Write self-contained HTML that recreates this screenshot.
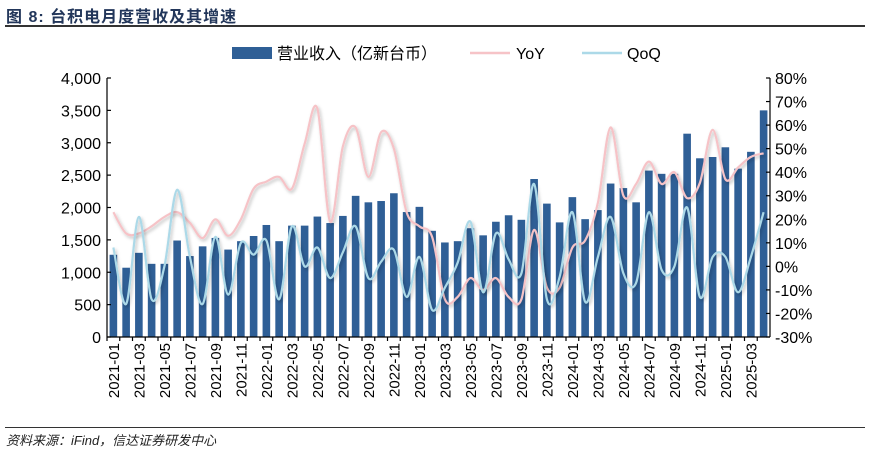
<!DOCTYPE html>
<html><head><meta charset="utf-8">
<style>
body{margin:0;background:#fff;width:870px;height:452px;overflow:hidden;font-family:"Liberation Sans","Noto Sans CJK SC",sans-serif;}
#title{position:absolute;left:6px;top:3px;font-size:16px;font-weight:bold;color:#22365a;letter-spacing:1px;font-family:"Liberation Sans","Noto Sans CJK SC",sans-serif;}
#tline{position:absolute;left:5px;top:25px;width:860px;height:2px;background:#333;}
#bline{position:absolute;left:5px;top:427px;width:860px;height:1px;background:#333;}
#src{position:absolute;left:6px;top:430px;font-size:13px;font-style:italic;color:#222;}
svg{position:absolute;left:0;top:0;}
</style></head><body>
<div id="title">图 8:  台积电月度营收及其增速</div>
<div id="tline"></div>
<svg id="chart" width="870" height="452"></svg>
<div id="bline"></div>
<div id="src">资料来源：iFind，信达证券研发中心</div>
<script>
const months = [];
for (let y=2021;y<=2025;y++) for(let m=1;m<=12;m++){ if(y===2025&&m>4) break; months.push(y+'-'+String(m).padStart(2,'0')); }
const revenue = [1270,1070,1300,1130,1130,1490,1250,1400,1530,1350,1480,1560,
1730,1480,1720,1720,1860,1760,1870,2180,2080,2100,2220,1930,
2010,1640,1460,1480,1680,1570,1780,1880,1810,2440,2060,1770,
2160,1820,1960,2370,2300,2080,2570,2520,2520,3140,2760,2780,
2930,2600,2860,3500];
const yoy = [23,14,14,17,21,23,18.5,12,20,13,20,33,
36,38,33,52,67,19,51,59,38,57,50,23,
17,12.5,-14,-13,-5,-10,-5,-13,-14,15.5,-9,-9,
8,11,27,59,30,35,44.5,35,40,29,35.5,58,
37,42,46.5,48];
const qoq = [8,-16,21,-14,0,32.5,4,-16,12.5,-12,10,5,
11,-14,17,0,8,-5,6,17,-5,2,7,-13,
4,-18.5,-9,1.5,19,-11,14,3,-3,35,-14,-4.5,
23,-15,4,21,-3,-7,23,-1.5,0,25,-13,4,
4,-11,4,23];
const leftTicks = [0,500,1000,1500,2000,2500,3000,3500,4000];
const rightTicks = [-30,-20,-10,0,10,20,30,40,50,60,70,80];

const svg = document.getElementById('chart');
const NS='http://www.w3.org/2000/svg';
const X0=107, X1=770, Y0=337, Y1=78;
const step=(X1-X0)/months.length;
const xc=i=>X0+step*(i+0.5);
const yL=v=>Y0-(v/4000)*(Y0-Y1);
const yR=v=>Y0-((v+30)/110)*(Y0-Y1);
function mk(tag,attrs,parent){const e=document.createElementNS(NS,tag);for(const k in attrs)e.setAttribute(k,attrs[k]);(parent||svg).appendChild(e);return e;}

// defs shadow
const defs=mk('defs',{});
const f=mk('filter',{id:'sh',x:'-10%',y:'-10%',width:'120%',height:'130%'},defs);
mk('feDropShadow',{dx:'1.5',dy:'2',stdDeviation:'1.5','flood-color':'#000','flood-opacity':'0.25'},f);

// bars
const gb=mk('g',{});


revenue.forEach((v,i)=>{
  const r=mk('rect',{x:xc(i)-3.8,y:yL(v),width:7.6,height:Y0-yL(v),fill:'#2f5f96'},gb);
  
  
});

function smooth(vals,yf){
  const p=vals.map((v,i)=>[xc(i),yf(v)]);
  let d='M'+p[0][0]+','+p[0][1];
  for(let i=0;i<p.length-1;i++){
    const a=p[i-1]||p[i],b=p[i],c=p[i+1],e=p[i+2]||c;
    const t=0.5/3*2/1;
    const c1=[b[0]+(c[0]-a[0])/6,b[1]+(c[1]-a[1])/6];
    const c2=[c[0]-(e[0]-b[0])/6,c[1]-(e[1]-b[1])/6];
    d+=' C'+c1[0].toFixed(1)+','+c1[1].toFixed(1)+' '+c2[0].toFixed(1)+','+c2[1].toFixed(1)+' '+c[0].toFixed(1)+','+c[1].toFixed(1);
  }
  return d;
}
const ly=mk('path',{d:smooth(yoy,yR),fill:'none',stroke:'#f6c3c7','stroke-width':2.2,filter:'url(#sh)'});


const lq=mk('path',{d:smooth(qoq,yR),fill:'none',stroke:'#acd9e8','stroke-width':2.2,filter:'url(#sh)'});



// axes
const ax=mk('g',{stroke:'#000','stroke-width':1.2});


mk('line',{x1:X0,y1:Y1,x2:X0,y2:Y0},ax);
mk('line',{x1:X1,y1:Y1,x2:X1,y2:Y0},ax);
mk('line',{x1:X0,y1:Y0,x2:X1,y2:Y0},ax);
leftTicks.forEach(v=>{
  mk('line',{x1:X0,y1:yL(v),x2:X0+4,y2:yL(v)},ax);
  const t=mk('text',{x:X0-6,y:yL(v)+6,'text-anchor':'end','font-size':16,fill:'#000',stroke:'none'});
  t.textContent=v.toLocaleString('en-US');
  
  
});
rightTicks.forEach(v=>{
  mk('line',{x1:X1-4,y1:yR(v),x2:X1,y2:yR(v)},ax);
  const t=mk('text',{x:X1+5,y:yR(v)+6,'font-size':16,fill:'#000',stroke:'none'});
  t.textContent=v+'%';
  
  
});
months.forEach((m,i)=>{
  mk('line',{x1:X0+step*i,y1:Y0,x2:X0+step*i,y2:Y0+4},ax);
  if(i%2===0){
    const t=mk('text',{x:0,y:0,transform:'translate('+(xc(i)+5.5)+','+(Y0+6)+') rotate(-90)','text-anchor':'end','font-size':15,fill:'#000',stroke:'none'});
    t.textContent=m;
    
    
  }
});

// legend
const lg=mk('g',{});


mk('rect',{x:232,y:47,width:40,height:12,fill:'#2f5f96'},lg);
let t=mk('text',{x:277,y:59,'font-size':16,fill:'#000'},lg);t.textContent='营业收入（亿新台币）';
mk('line',{x1:470,y1:53,x2:510,y2:53,stroke:'#f6c3c7','stroke-width':2.5},lg);
t=mk('text',{x:516,y:59,'font-size':16,fill:'#000'},lg);t.textContent='YoY';
mk('line',{x1:582,y1:53,x2:622,y2:53,stroke:'#acd9e8','stroke-width':2.5},lg);
t=mk('text',{x:627,y:59,'font-size':16,fill:'#000'},lg);t.textContent='QoQ';
</script>
</body></html>
